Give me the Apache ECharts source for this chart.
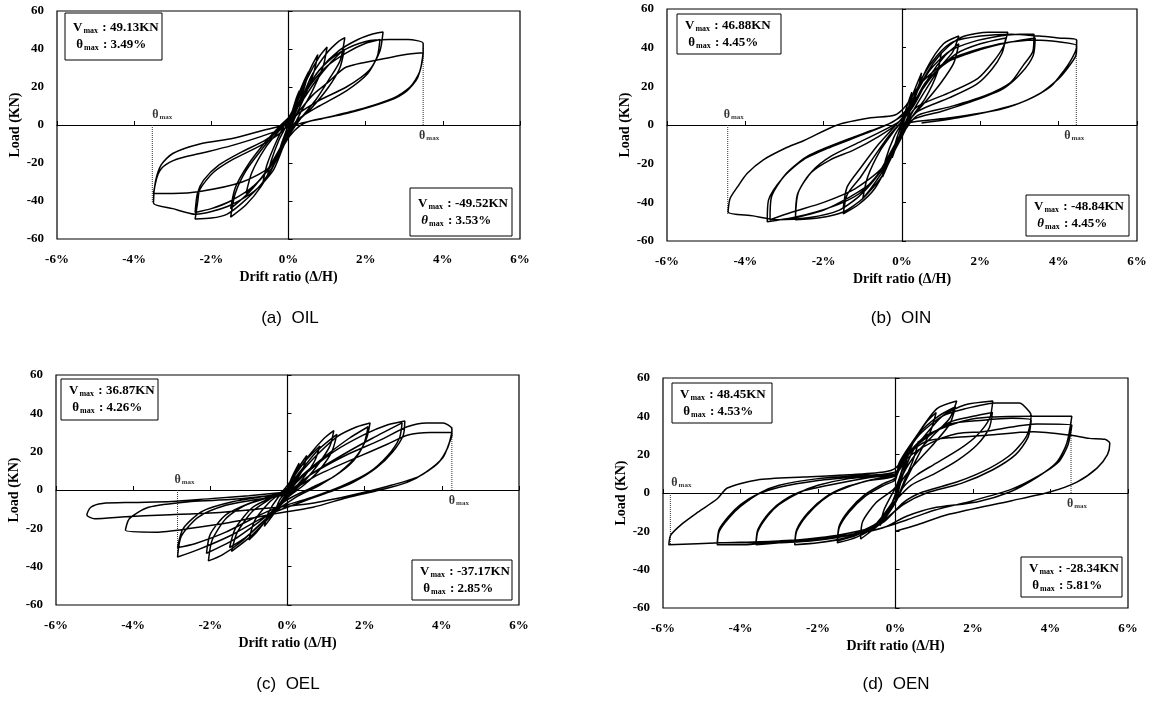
<!DOCTYPE html>
<html>
<head>
<meta charset="utf-8">
<script src="https://cdn.jsdelivr.net/npm/echarts@6/dist/echarts.min.js"></script>
<style>
html,body{margin:0;padding:0;background:#fff;}
#main{width:1151px;height:702px;}
</style>
</head>
<body>
<div id="main"></div>
<script>
// 滞回曲线 (drift %, load kN), in loading order
var loopsOIL = [
[0,0],[0.08,6],[0.2,14],[0.28,18],[0.2,11],[0.08,3],[-0.05,-5],[-0.18,-13],[-0.28,-18],[-0.2,-11],[-0.06,-3],
[0.05,4],[0.22,14],[0.4,23],[0.52,28],[0.4,19],[0.2,8],[0,-2],[-0.2,-12],[-0.4,-22],[-0.56,-28],[-0.45,-19],[-0.25,-8],[-0.05,0],
[0.15,10],[0.4,22],[0.6,31],[0.76,37],[0.66,28],[0.42,15],[0.15,3],[0,-5],[-0.25,-16],[-0.5,-25],[-0.66,-30],[-0.56,-21],[-0.3,-8],[-0.05,2],
[0.2,11],[0.5,25],[0.8,36],[1.0,41],[0.9,31],[0.62,18],[0.3,6],[0.05,-4],[-0.3,-17],[-0.7,-28],[-1.1,-36],[-0.95,-25],[-0.6,-12],[-0.2,-2],[0,3],
[0.3,12],[0.6,26],[1.0,38],[1.3,44],[1.46,46],[1.34,34],[1.08,25],[0.7,13],[0.3,3],[0,-6],[-0.3,-18],[-0.7,-32],[-1.1,-42],[-1.5,-48.5],[-1.38,-36],[-1.1,-24],[-0.7,-13],[-0.3,-3],[0,3],
[0.3,11],[0.7,23],[1.1,33],[1.45,40],[1.33,30],[1.04,20],[0.6,9],[0.2,1],[-0.1,-8],[-0.5,-22],[-1.0,-35],[-1.5,-44],[-1.38,-33],[-1.05,-21],[-0.6,-9],[-0.2,0],
[0.1,6],[0.4,17],[0.8,29],[1.3,39],[1.8,45],[2.2,48],[2.45,49],[2.37,39],[2.1,29],[1.5,20],[0.8,13],[0.2,5],[0,-3],[-0.3,-18],[-0.7,-31],[-1.2,-41],[-1.6,-47],[-2.0,-49],[-2.42,-49.5],[-2.35,-40],[-2.3,-34],[-1.95,-25],[-1.43,-18],[-0.74,-11],[-0.2,-4],[0.1,3],
[0.3,12],[0.6,22],[1.0,31],[1.5,38],[2.0,43],[2.37,45],[2.3,36],[2.05,27],[1.5,18],[0.8,10],[0.25,3],[0,-4],[-0.4,-20],[-0.9,-32],[-1.5,-40],[-2.0,-44],[-2.42,-46],[-2.36,-36],[-2.2,-29],[-1.8,-21],[-1.2,-14],[-0.6,-8],[-0.1,0],
[0.2,8],[0.5,20],[0.9,31],[1.4,39],[2.0,44],[2.6,45],[3.1,45],[3.49,43],[3.49,38],[3.35,25],[3.07,18],[2.63,13],[1.5,6],[0.48,1.6],[0.15,-3],[-0.1,-10],[-0.4,-24],[-0.9,-35],[-1.6,-43],[-2.4,-47],[-3.0,-44],[-3.5,-41],[-3.45,-30],[-3.3,-21],[-3.0,-15],[-2.3,-10],[-1.43,-7],[-0.7,-3],[0,1],
[0.3,8],[0.64,16],[1.0,22],[1.5,30.5],[2.5,35],[3.0,37],[3.49,38],[3.4,28],[3.15,20],[2.7,14],[1.8,8],[0.8,3],[0.2,0],[-0.1,-8],[-0.48,-22],[-1.2,-30],[-2.3,-35],[-3.0,-36],[-3.5,-36],[-3.4,-27],[-3.25,-22],[-2.9,-18],[-2.3,-15],[-1.5,-11],[-0.7,-6],[0,-1]
];
var loopsOIN = [
[0,0],[0.1,8],[0.25,17],[0.18,10],[0.05,2],[-0.1,-8],[-0.25,-17],[-0.18,-10],[-0.05,-2],
[0.1,5],[0.3,17],[0.5,27],[0.4,18],[0.2,7],[0,-3],[-0.2,-13],[-0.5,-27],[-0.42,-18],[-0.2,-6],[0,1],
[0.2,9],[0.5,22],[0.8,32],[1.0,37],[0.9,27],[0.6,14],[0.25,4],[0,-6],[-0.4,-21],[-0.8,-33],[-1.0,-38],[-0.88,-27],[-0.55,-13],[-0.2,-3],[0,2],
[0.25,12],[0.65,30],[1.06,42],[1.45,46],[1.3,38],[0.98,30],[0.6,18],[0.25,6],[0,-4],[-0.3,-18],[-0.7,-33],[-1.1,-41],[-1.5,-46],[-1.4,-36],[-1.06,-27],[-0.7,-16],[-0.35,-6],[0,2],
[0.3,10],[0.7,25],[1.1,36],[1.45,42],[1.32,32],[1.0,22],[0.6,12],[0.2,3],[-0.1,-7],[-0.6,-25],[-1.1,-37],[-1.5,-43],[-1.4,-32],[-1.05,-22],[-0.6,-10],[-0.2,-1],
[0.1,6],[0.4,18],[0.8,32],[1.2,41],[1.6,46],[2.2,48],[2.7,48],[2.6,41],[2.34,33],[1.93,24],[1.24,17],[0.39,9.5],[0.1,2],[-0.1,-8],[-0.5,-26],[-1.0,-38],[-1.5,-45],[-2.1,-48],[-2.72,-49],[-2.67,-36],[-2.34,-25],[-1.83,-18],[-1.24,-13],[-0.6,-6],[-0.1,1],
[0.3,12],[0.8,26],[1.4,37],[2.0,42],[2.65,45],[2.55,37],[2.3,29],[1.9,21],[1.2,14],[0.4,7],[0.05,-2],[-0.3,-16],[-0.8,-30],[-1.4,-38],[-2.0,-44],[-2.72,-48],[-2.65,-35],[-2.3,-24],[-1.8,-16],[-1.1,-9],[-0.4,-2],[0,3],
[0.3,14],[0.7,28],[1.2,38],[1.8,43],[2.5,46],[3.0,47],[3.37,47],[3.34,38],[3.1,31],[2.77,22],[2.1,15],[1.24,9.5],[0.4,5],[0.1,-2],[-0.4,-20],[-1.0,-34],[-1.5,-40],[-2.2,-45],[-2.8,-48],[-3.44,-50],[-3.41,-39],[-3.03,-27],[-2.52,-18],[-1.83,-11.5],[-1.0,-5],[-0.3,1],
[0.2,8],[0.6,22],[1.2,33],[2.0,39],[2.8,43],[3.4,45],[3.35,36],[3.05,27],[2.6,19],[1.9,13],[1.0,7],[0.3,3],[0,-4],[-0.5,-22],[-1.2,-33],[-2.0,-40],[-2.8,-45],[-3.37,-49],[-3.33,-37],[-2.95,-25],[-2.4,-16],[-1.6,-9],[-0.8,-3],[-0.2,2],
[0.2,10],[0.5,24],[0.9,36],[1.3,43],[2.0,46],[2.8,47],[3.5,46],[4.0,45],[4.46,44],[4.45,39.5],[4.3,33],[4.13,28],[3.8,20],[3.2,13],[2.5,8],[1.24,3.7],[0.14,1],[0,-3],[-0.4,-20],[-1.0,-35],[-1.6,-44],[-2.4,-48],[-3.2,-49],[-3.8,-47],[-4.44,-45],[-4.39,-38],[-4.2,-32],[-3.95,-25],[-3.54,-18],[-2.93,-11.5],[-2.5,-8],[-1.65,0],[-0.8,3.7],[-0.2,5],
[0.1,10],[0.5,22],[1.24,34],[2.5,42],[3.4,44],[4.0,43],[4.46,41],[4.44,36],[4.25,30],[4.0,24],[3.5,16],[2.8,10],[1.5,4],[0.5,1]
];
var loopsOEL = [
[0,0],[0.1,6],[0.3,14],[0.2,8],[0.05,1],[-0.1,-4],[-0.3,-10],[-0.2,-5],[0,0],
[0.2,9],[0.5,18],[0.4,11],[0.2,4],[0,-2],[-0.3,-11],[-0.6,-19],[-0.5,-12],[-0.25,-4],[0,1],
[0.2,8],[0.5,16],[0.84,23],[0.7,15],[0.4,6],[0.1,-1],[-0.4,-12],[-0.8,-22],[-1.0,-26],[-0.85,-16],[-0.5,-7],[-0.1,0],
[0.2,8],[0.6,19],[0.95,27],[1.2,31],[1.1,23],[0.84,14.6],[0.5,6],[0.1,-2],[-0.5,-15],[-1.0,-25],[-1.45,-32],[-1.3,-22],[-0.9,-11],[-0.4,-4],[0,1],
[0.3,9],[0.8,21],[1.28,29],[1.15,20],[0.85,11],[0.45,3],[0,-4],[-0.6,-16],[-1.1,-25],[-1.5,-30],[-1.35,-20],[-0.9,-9],[-0.3,-3],[0,0],
[0.3,8],[0.8,19],[1.3,28],[1.8,33],[2.14,35],[2.05,27],[1.8,18],[1.36,9.4],[0.84,2.6],[0.2,-4],[-0.5,-14],[-1.2,-27],[-1.7,-34],[-2.05,-37],[-1.95,-26],[-1.6,-15],[-1.1,-8],[-0.5,-4],[0,-1],
[0.4,8],[1.0,18],[1.6,27],[2.09,33],[1.98,24],[1.7,15],[1.2,7],[0.6,1],[0,-5],[-0.7,-16],[-1.4,-26],[-2.1,-33],[-2.0,-23],[-1.6,-13],[-1.0,-7],[-0.4,-3],[0,0],
[0.5,9],[1.2,20],[2.0,29],[2.6,34],[3.04,36],[3.0,28.6],[2.73,20],[2.3,11.5],[1.7,4],[1.1,-1],[0.4,-6],[-0.5,-13],[-1.5,-24],[-2.3,-31],[-2.85,-35],[-2.75,-24],[-2.3,-14],[-1.6,-8],[-0.8,-5],[0,-2],
[0.6,8],[1.4,18],[2.2,27],[2.97,35],[2.9,27],[2.6,18],[2.1,9],[1.4,2],[0.6,-4],[-0.5,-11],[-1.6,-22],[-2.4,-28],[-2.85,-30],[-2.7,-20],[-2.2,-11],[-1.4,-6],[-0.5,-3],[0,-1],
[0.6,8],[1.5,18],[2.4,26],[3.1,33],[3.6,35],[4.03,35],[4.26,32],[4.26,28.6],[4.2,25],[4.03,17],[3.6,9.5],[3.1,4],[2.4,0],[1.54,-4],[0.66,-9],[-0.5,-13],[-1.5,-17],[-2.5,-20],[-3.4,-22],[-4.2,-21],[-4.1,-15],[-3.6,-9],[-2.5,-6],[-1.5,-5],[-0.5,-3],[0,-1],
[0.8,8],[1.8,17],[2.6,24],[3.1,28.6],[3.7,30],[4.26,30],[4.15,22],[3.9,14],[3.4,7],[2.6,2],[1.6,-3],[0.6,-7],[-0.8,-10],[-2.0,-12],[-3.2,-13],[-4.2,-14],[-5.0,-15],[-5.2,-13],[-5.1,-9],[-4.8,-7],[-4.0,-6.5],[-3.0,-6],[-2.0,-4.5],[-1.0,-3],[0,-1]
];
var loopsOEN = [
[0,0],[0.15,10],[0.3,18],[0.2,10],[0.05,2],[-0.15,-8],[-0.4,-17],[-0.3,-9],[-0.1,-1],
[0.15,8],[0.4,20],[0.6,27],[0.45,17],[0.2,5],[0,-5],[-0.4,-16],[-0.9,-24],[-0.85,-15],[-0.5,-5],[0,3],
[0.2,14],[0.5,28],[0.8,37],[1.05,42],[0.9,32],[0.6,20],[0.3,8],[0,-4],[-0.5,-17],[-1.0,-23],[-1.5,-26],[-1.45,-18],[-1.2,-10],[-0.8,-2],[-0.3,4],[0,7],
[0.1,16],[0.55,30],[1.07,44],[1.58,48],[1.4,39],[0.97,30],[0.55,21],[0.2,10],[0,-2],[-0.5,-16],[-1.0,-22],[-1.5,-25],[-1.45,-17],[-1.2,-9],[-0.8,-1],[-0.3,5],[0,8],
[0.2,18],[0.6,31],[1.1,40],[1.55,45],[1.4,36],[1.0,26],[0.5,15],[0.15,6],[0,-4],[-0.6,-18],[-1.4,-24],[-2.0,-26],[-2.6,-27],[-2.55,-20],[-2.3,-12],[-1.9,-4],[-1.5,1],[-0.8,6],[0,9],
[0.1,16],[0.55,25],[1.2,40],[1.8,46],[2.51,48],[2.43,39],[2.1,30],[1.66,23],[0.97,14.6],[0.55,9.4],[0.2,3],[0,-5],[-0.5,-17],[-1.2,-23],[-2.0,-26],[-2.6,-27],[-2.55,-19],[-2.25,-10],[-1.8,-2],[-1.3,3],[-0.6,7],[0,10],
[0.3,20],[0.55,25],[1.4,37],[2.0,40],[2.5,42],[2.42,34],[2.1,25],[1.6,17],[1.0,10],[0.4,4],[0,-4],[-0.5,-16],[-1.2,-22],[-2.2,-25],[-3.0,-26],[-3.6,-27],[-3.55,-20],[-3.3,-12],[-3.0,-6],[-2.5,0],[-2.0,4],[-1.2,7.5],[-0.3,9],[0,10],
[0.2,18],[0.6,30],[1.2,40],[1.8,44],[2.6,47],[3.2,47],[3.47,42],[3.5,40],[3.39,30],[3.03,21],[2.43,13],[1.58,5.7],[0.7,0.5],[0.2,-5],[-0.3,-15],[-1.0,-21],[-2.0,-24],[-3.0,-26],[-3.6,-26],[-3.55,-19],[-3.25,-10],[-2.9,-4],[-2.4,1],[-1.5,5],[-0.7,8],[0,10],
[0.3,19],[0.7,28],[1.4,36],[2.26,38],[3.0,39],[3.5,38],[3.42,29],[3.1,20],[2.5,12],[1.7,5],[0.8,0],[0.2,-6],[-0.5,-17],[-1.5,-22],[-2.8,-25],[-4.0,-27],[-4.6,-27],[-4.55,-20],[-4.3,-13],[-4.0,-7],[-3.5,0],[-3.0,4],[-2.0,7.5],[-1.0,9],[0,11],
[0.3,20],[0.8,30],[1.5,36],[2.1,39],[3.55,40],[4.55,40],[4.42,26],[4.16,16],[3.64,8],[2.95,0.5],[2.1,-4.7],[0.97,-7.8],[0.3,-12],[-0.3,-18],[-1.2,-22],[-2.5,-25],[-3.6,-26],[-4.6,-26],[-4.55,-19],[-4.3,-12],[-4.0,-6],[-3.6,-1],[-3.0,3],[-2.0,6.5],[-1.0,8.5],[0,10],
[0.3,18],[0.9,26],[1.6,31],[2.26,32],[3.65,36],[4.55,35.5],[4.45,25],[4.2,16],[3.7,9],[3.0,2],[2.0,-4],[1.0,-9],[0.3,-14],[-0.5,-19],[-1.5,-23],[-3.0,-25],[-4.5,-26],[-5.85,-27],[-5.8,-22],[-5.5,-16],[-5.1,-10],[-4.6,-3],[-4.34,2.6],[-3.57,6.8],[-2.38,8.3],[-1.2,9.5],[-0.3,11],[0,13],
[0.3,20],[0.8,27],[1.5,29],[2.26,30],[3.55,32],[4.58,30],[5.0,28.5],[5.4,28],[5.53,26],[5.47,20],[5.2,13],[4.68,5.7],[3.98,0.5],[3.0,-4],[1.4,-11],[0.5,-17],[0,-20]
];

// θmax 虚线 [drift, load at curve]
var thetaOIL = [[-3.53,-41],[3.49,41]];
var thetaOIN = [[-4.45,-46],[4.45,44.5]];
var thetaOEL = [[-2.85,-35],[4.26,33]];
var thetaOEN = [[-5.81,-27],[4.53,37]];

var vmaxPos = ['49.13KN','46.88KN','36.87KN','48.45KN'];
var thetaPos = ['3.49%','4.45%','4.26%','4.53%'];
var vmaxNeg = ['-49.52KN','-48.84KN','-37.17KN','-28.34KN'];
var thetaNeg = ['3.53%','4.45%','2.85%','5.81%'];
var captions = ['(a)  OIL','(b)  OIN','(c)  OEL','(d)  OEN'];

var xTicks = [-6,-4,-2,0,2,4,6];
var yTicks = [-60,-40,-20,0,20,40,60];

var loops = [loopsOIL, loopsOIN, loopsOEL, loopsOEN];
var thetas = [thetaOIL, thetaOIN, thetaOEL, thetaOEN];

// 布局
var grids = [
    {left:57, top:11, width:463, height:228},
    {left:667, top:9, width:470, height:232},
    {left:56, top:375, width:463, height:230},
    {left:663, top:378, width:465, height:230}
];
var topBoxes = [[65,13,97,47],[677,14,104,40],[61,379,97,41],[672,383,100,40]];
var bottomBoxes = [[410,188,102,48],[1026,195,103,41],[412,560,100,40],[1021,557,101,40]];
var captionPos = [[290,318],[901,318],[288,684],[896,684]];
var labelShift = [[10,6],[6,-2],[7,7],[11,6]];

var SERIF = 'Liberation Serif';
var chart = echarts.init(document.getElementById('main'), null, {renderer:'canvas'});

var xAxes = [], yAxes = [], series = [], graphic = [];

for (var i = 0; i < 4; i++) {
    xAxes.push({
        gridIndex:i, type:'value', min:xTicks[0], max:xTicks[xTicks.length-1], interval:2, position:'bottom',
        axisLine:{show:false, onZero:false}, axisTick:{show:false}, splitLine:{show:false},
        axisLabel:{formatter:function(v){return v+'%';}, fontFamily:SERIF, fontWeight:'bold', fontSize:13, color:'#000', margin:14},
        name:'Drift ratio (\u0394/H)', nameLocation:'middle', nameGap:31,
        nameTextStyle:{fontFamily:SERIF, fontWeight:'bold', fontSize:14, color:'#000'}
    });
    xAxes.push({
        gridIndex:i, type:'value', min:xTicks[0], max:xTicks[xTicks.length-1], interval:2, position:'bottom',
        axisLine:{show:true, onZero:true, lineStyle:{color:'#000', width:1.2}},
        axisTick:{show:true, inside:true, length:4, lineStyle:{color:'#000'}},
        axisLabel:{show:false}, splitLine:{show:false}
    });
    yAxes.push({
        gridIndex:i, type:'value', min:yTicks[0], max:yTicks[yTicks.length-1], interval:20, position:'left',
        axisLine:{show:false, onZero:false}, axisTick:{show:false}, splitLine:{show:false},
        axisLabel:{fontFamily:SERIF, fontWeight:'bold', fontSize:13, color:'#000', margin:13},
        name:'Load (KN)', nameLocation:'middle', nameGap:33, nameRotate:90,
        nameTextStyle:{fontFamily:SERIF, fontWeight:'bold', fontSize:14, color:'#000'}
    });
    yAxes.push({
        gridIndex:i, type:'value', min:yTicks[0], max:yTicks[yTicks.length-1], interval:20, position:'left',
        axisLine:{show:true, onZero:true, lineStyle:{color:'#000', width:1.2}},
        axisTick:{show:true, inside:true, length:4, lineStyle:{color:'#000'}},
        axisLabel:{show:false}, splitLine:{show:false}
    });

    series.push({
        type:'line', xAxisIndex:2*i, yAxisIndex:2*i, data:loops[i], symbol:'none', smooth:0.25,
        lineStyle:{color:'#000', width:1.5}, z:4, silent:true
    });
    for (var k = 0; k < 2; k++) {
        var t = thetas[i][k];
        series.push({
            type:'line', xAxisIndex:2*i, yAxisIndex:2*i, data:[[t[0],0],[t[0],t[1]]], symbol:'none',
            lineStyle:{color:'#333', width:1, type:'dotted'}, z:3, silent:true
        });
    }
    series.push({
        type:'scatter', xAxisIndex:2*i, yAxisIndex:2*i, symbolSize:1, itemStyle:{color:'transparent'}, silent:true,
        data:[
            {value:[thetas[i][0][0],0], label:{position:'top', offset:[labelShift[i][0],0]}},
            {value:[thetas[i][1][0],0], label:{position:'bottom', offset:[labelShift[i][1],0]}}
        ],
        label:{show:true, distance:4, formatter:'{t|\u03b8}{s|max}',
            rich:{
                t:{fontFamily:SERIF, fontWeight:'bold', fontSize:12, color:'#000'},
                s:{fontFamily:SERIF, fontWeight:'bold', fontSize:7, color:'#000', padding:[5,0,0,1]}
            }}
    });

    // 标注框
    var boxes = [[topBoxes[i], vmaxPos[i], thetaPos[i], false], [bottomBoxes[i], vmaxNeg[i], thetaNeg[i], i < 2]];
    boxes.forEach(function(b){
        var r = b[0];
        graphic.push({type:'rect', shape:{x:r[0], y:r[1], width:r[2], height:r[3]},
            style:{fill:'#fff', stroke:'#000', lineWidth:1}, z:10});
        graphic.push({type:'text', x:r[0]+8, y:r[1]+r[3]/2, z:11,
            style:{
                text:'{v|V}{s|max}{v| : '+b[1]+'}\n{v| }{'+(b[3]?'ti':'v')+'|\u03b8}{s|max}{v| : '+b[2]+'}',
                verticalAlign:'middle', textVerticalAlign:'middle',
                rich:{
                    v:{fontFamily:SERIF, fontWeight:'bold', fontSize:13, lineHeight:17, fill:'#000'},
                    ti:{fontFamily:SERIF, fontWeight:'bold', fontStyle:'italic', fontSize:13, lineHeight:17, fill:'#000'},
                    s:{fontFamily:SERIF, fontWeight:'bold', fontSize:8, fill:'#000', padding:[6,1,0,1]}
                }
            }});
    });

    graphic.push({type:'text', x:captionPos[i][0], y:captionPos[i][1],
        style:{text:captions[i], fontFamily:'Liberation Sans', fontSize:17, fill:'#000',
            align:'center', textAlign:'center', verticalAlign:'middle', textVerticalAlign:'middle'}});
}

option = {
    animation:false,
    backgroundColor:'#fff',
    grid: grids.map(function(g){
        return {left:g.left, top:g.top, width:g.width, height:g.height, show:true,
            borderColor:'#000', borderWidth:1.2, backgroundColor:'transparent', containLabel:false};
    }),
    xAxis: xAxes,
    yAxis: yAxes,
    series: series,
    graphic: graphic
};

chart.setOption(option);
</script>
</body>
</html>
